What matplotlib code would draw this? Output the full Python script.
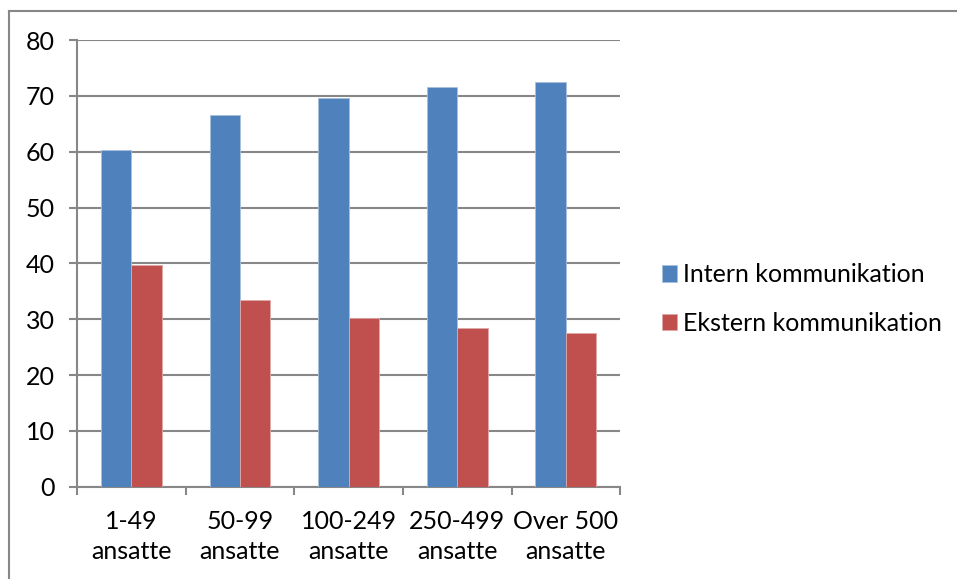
import numpy as np
import matplotlib.pyplot as plt
from matplotlib.lines import Line2D

# Andel (%) efter virksomhedsstørrelse
categories = ['1-49\nansatte', '50-99\nansatte', '100-249\nansatte',
              '250-499\nansatte', 'Over 500\nansatte']
intern = [60.3, 66.5, 69.6, 71.5, 72.5]
ekstern = [39.7, 33.4, 30.3, 28.4, 27.5]

blue = '#4f81bd'
red = '#c0504d'
grey = '#878787'

plt.rcParams['font.family'] = ['Lato', 'DejaVu Sans']

fig = plt.figure(figsize=(9.57, 5.79), dpi=100)
ax = fig.add_axes([0.0805, 0.1594, 0.5675, 0.7715])

x = np.arange(len(categories))
w = 0.28
ax.bar(x - w / 2, intern, w, color=blue, edgecolor='#a7c0de', linewidth=0.6,
       label='Intern kommunikation', zorder=3)
ax.bar(x + w / 2, ekstern, w, color=red, edgecolor='#e0a9a8', linewidth=0.6,
       label='Ekstern kommunikation', zorder=3)

ax.set_ylim(0, 80)
ax.set_xlim(-0.5, len(categories) - 0.5)
ax.set_yticks(range(0, 81, 10))
ax.grid(axis='y', color=grey, linewidth=1.5, zorder=0)

ax.set_xticks(x)
ax.set_xticklabels(categories, fontsize=18, linespacing=1.35)
ax.set_xticks(np.arange(-0.5, len(categories)), minor=True)
ax.tick_params(axis='x', which='major', length=0, pad=17)
ax.tick_params(axis='x', which='minor', length=6, width=1.5, color=grey)
ax.tick_params(axis='y', length=6, width=1.5, color=grey, pad=10, labelsize=18)

for side in ['top', 'right']:
    ax.spines[side].set_visible(False)
for side in ['left', 'bottom']:
    ax.spines[side].set_color(grey)
    ax.spines[side].set_linewidth(1.5)

ax.legend(loc='center left', bbox_to_anchor=(1.035, 0.42), frameon=False,
          fontsize=18, handlelength=0.62, handleheight=0.62,
          handletextpad=0.25, labelspacing=1.02)

# outer chart frame
fig.add_artist(Line2D([8.5 / 957, 8.5 / 957], [0, 1 - 10.7 / 579],
                      transform=fig.transFigure, color=grey, linewidth=1.5))
fig.add_artist(Line2D([8.5 / 957, 1], [1 - 10.7 / 579, 1 - 10.7 / 579],
                      transform=fig.transFigure, color=grey, linewidth=1.5))

fig.savefig('out.png', dpi=100)
